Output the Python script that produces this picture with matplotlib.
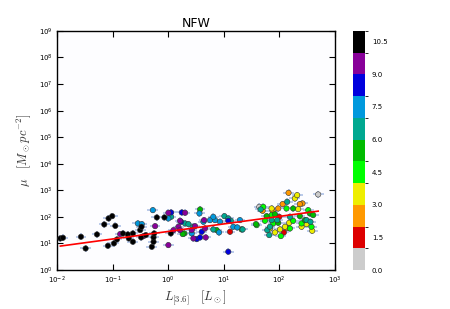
import matplotlib
matplotlib.use("Agg")
import matplotlib.pyplot as plt
import numpy as np
from matplotlib.colors import ListedColormap, BoundaryNorm
from matplotlib.ticker import FixedLocator, FuncFormatter

plt.rcParams['mathtext.fontset'] = 'cm'

# ---- data ----
black_x = [0.0115, 0.0128, 0.027, 0.0327, 0.0524, 0.0709, 0.0847, 0.0986, 0.112, 0.0824, 0.106, 0.12, 0.154,
           0.188, 0.196, 0.232, 0.232, 0.314, 0.332, 0.509, 0.546, 0.546, 0.561, 0.626, 0.859, 1.117, 0.327, 0.397]
black_y = [15.5, 16.4, 17.9, 6.5, 21.9, 52, 87.5, 107, 46, 8.2, 10.1, 14.2, 23.9,
           21.9, 15.5, 11.6, 23.9, 31.9, 42.6, 7.5, 11.6, 16.9, 23.9, 95.5, 95.5, 23.9, 16.9, 20.7]
purple_x = [0.137, 0.361, 0.583, 1.01, 1.01, 1.25, 1.53, 1.64, 2.02, 1.64, 2.66, 2.85, 3.05, 4.62, 4.75, 4.44]
purple_y = [22.6, 19, 45, 143, 8.7, 31.9, 42.6, 31.9, 143, 71.6, 31.9, 15.5, 45, 36.8, 16.9, 75.8]
blue_x = [1.13, 1.76, 1.71, 3.27, 3.76, 4.03, 12.1, 12.1]
blue_y = [147, 147, 65.6, 14.6, 16.9, 27.6, 4.9, 71.6]
lblue_x = [0.285, 0.336, 0.531, 1.01, 2.66, 3.66, 4.32, 5.68, 6.98, 8.59, 8.24, 14.9, 17.6, 19.6, 6.5]
lblue_y = [56.8, 53.6, 180, 87.5, 23.9, 135, 65.6, 75.8, 75.8, 65.6, 26, 42.6, 40.2, 75.8, 101]
teal_x = [1.13, 2.02, 2.32, 2.85, 6.5, 10.3, 12.1, 13.4, 21.9, 46.2, 139, 60.8, 66, 68, 72.8, 92, 156, 310, 365]
teal_y = [101, 56.8, 53.6, 42.6, 33.8, 107, 87.5, 71.6, 33.8, 191, 371, 31.9, 20.7, 42.6, 75.8, 75.8, 101, 75.8, 65.6]
green_x = [3.76, 1.96, 1.83, 7.48, 21, 38.1, 59.2, 83.6, 96, 178, 235, 289, 356, 408]
green_y = [191, 23.9, 22.6, 31.9, 33.8, 53.6, 107, 127, 60, 208, 107, 75.8, 135, 117]
bgreen_x = [51.6, 39.2, 55.3, 78, 107, 135, 178, 252, 332, 381, 156, 72.8]
bgreen_y = [240, 49, 71.6, 56.8, 19, 208, 71.6, 56.8, 180, 42.6, 36.8, 117]
yellow_x = [68, 72.8, 83.6, 103, 127, 151, 191, 210, 219, 252, 310, 392]
yellow_y = [36.8, 208, 26, 33.8, 42.6, 60, 495, 660, 196, 42.6, 53.6, 30.1]
orange_x = [50.2, 75.9, 96, 115, 147, 262, 139, 235]
orange_y = [170, 170, 208, 303, 808, 321, 38, 303]
red_x = [13, 121, 100]
red_y = [27.6, 26, 101]
gray_x = [43.8, 502]
gray_y = [240, 700]

groups = [  # (x, y, colour value)
    (gray_x, gray_y, 0.5), (red_x, red_y, 1.5), (orange_x, orange_y, 2.5), (yellow_x, yellow_y, 3.5),
    (bgreen_x, bgreen_y, 4.5), (green_x, green_y, 5.5), (teal_x, teal_y, 6.5), (lblue_x, lblue_y, 7.5),
    (blue_x, blue_y, 8.5), (purple_x, purple_y, 9.5), (black_x, black_y, 10.5),
]

fit_x = [0.0115, 502]
fit_y = [8.0, 165]

cbar_ticks = [0.0, 1.5, 3.0, 4.5, 6.0, 7.5, 9.0, 10.5]
bin_colors = ['#cccccc', '#dd0000', '#ff9900', '#eeee00', '#00ff00', '#00bb00',
              '#00a890', '#0099dd', '#0000dd', '#880099', '#000000']

cmap = ListedColormap(bin_colors)
norm = BoundaryNorm(np.arange(0, 12), cmap.N)

fig = plt.figure(figsize=(4.5, 3.09), dpi=100)
ax = fig.add_axes([0.1267, 0.126, 0.6173, 0.774])
cax = fig.add_axes([0.784, 0.126, 0.027, 0.774])

for gx, gy, cv in groups:
    gx = np.array(gx); gy = np.array(gy)
    ax.errorbar(gx, gy, xerr=[gx * 0.2, gx * 0.25], yerr=[gy * 0.25, gy * 0.35],
                fmt='none', ecolor='#b4c6e8', elinewidth=1.3, capsize=0, zorder=2)
for gx, gy, cv in groups:
    sc = ax.scatter(gx, gy, c=[cv] * len(gx), cmap=cmap, norm=norm, s=15,
                    edgecolors='#333333', linewidths=0.4, zorder=3)

ax.plot(fit_x, fit_y, color='red', lw=1.2, zorder=4)

ax.set_xscale('log'); ax.set_yscale('log')
ax.set_xlim(1e-2, 1e3); ax.set_ylim(1e0, 1e9)
ax.xaxis.set_major_locator(FixedLocator([10.0 ** k for k in range(-2, 4)]))
ax.yaxis.set_major_locator(FixedLocator([10.0 ** k for k in range(0, 10)]))
ax.xaxis.set_minor_locator(FixedLocator([]))
ax.yaxis.set_minor_locator(FixedLocator([]))
fmt = FuncFormatter(lambda v, p: r'$\mathregular{10^{%d}}$' % int(round(np.log10(v))))
ax.xaxis.set_major_formatter(fmt); ax.yaxis.set_major_formatter(fmt)
ax.tick_params(which='both', direction='in', top=True, right=True, length=4, width=0.8,
               labelsize=5, pad=3)
for s in ax.spines.values():
    s.set_linewidth(1.0)
ax.set_facecolor('#fdfdff')

ax.set_title('NFW', fontsize=9, pad=3)
ax.set_xlabel(r'$L_{[3.6]}\quad[L_\odot]$', fontsize=9, color='#333333', labelpad=2)
ax.set_ylabel(r'$\mu\quad[M_\odot pc^{-2}]$', fontsize=9, color='#333333', labelpad=4)

cb = fig.colorbar(sc, cax=cax, ticks=cbar_ticks)
cb.ax.set_yticklabels(['%.1f' % t for t in cbar_ticks])
cb.ax.tick_params(length=0, labelsize=5, pad=5)
cb.outline.set_visible(False)

fig.savefig('out.png', dpi=100)
